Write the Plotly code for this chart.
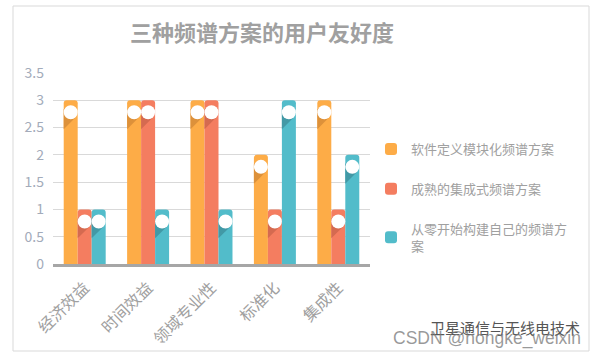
import plotly.graph_objects as go

categories = ["经济效益", "时间效益", "领域专业性", "标准化", "集成性"]
series_names = ["软件定义模块化频谱方案", "成熟的集成式频谱方案", "从零开始构建自己的频谱方<br>案"]
soft_defined = [3, 3, 3, 2, 3]
mature_integrated = [1, 3, 3, 1, 1]
from_scratch = [1, 1, 1, 3, 2]
y_ticks = [0, 0.5, 1, 1.5, 2, 2.5, 3, 3.5]

series_values = [soft_defined, mature_integrated, from_scratch]
colors = ["#FDAC47", "#F47D60", "#52BCCA"]
shadow_colors = ["#DD913A", "#D56A50", "#4299A6"]

W, H = 600, 359
L, R, T, B = 53, 370, 73, 264
bargap = 0.338
bw = (1 - bargap) / 3

def px_x(px):
    return (px - L) / (R - L)

def px_y(py):
    return (B - py) / (B - T)

fig = go.Figure()
for i, (name, vals) in enumerate(zip(series_names, series_values)):
    fig.add_trace(go.Bar(
        x=categories, y=vals, name=name,
        marker=dict(color=colors[i], cornerradius=3, line=dict(width=0)),
        legendgroup=str(i), hoverinfo="skip",
    ))

shapes = []
r = 7
cy = -12
k = 0.7071 * r
for i, vals in enumerate(series_values):
    for j, v in enumerate(vals):
        xa = j + (i - 1) * bw
        path = (f"M {-k} {cy + k} L {-r} {cy + 0.41 * r} L {-r} {cy - 2.41 * r} "
                f"L {k} {cy - k} Z")
        shapes.append(dict(type="path", xref="x", yref="y", xsizemode="pixel",
                           ysizemode="pixel", xanchor=xa, yanchor=v, path=path,
                           fillcolor=shadow_colors[i], line=dict(width=0), layer="above"))
        shapes.append(dict(type="circle", xref="x", yref="y", xsizemode="pixel",
                           ysizemode="pixel", xanchor=xa, yanchor=v,
                           x0=-r, x1=r, y0=cy - r, y1=cy + r,
                           fillcolor="white", line=dict(width=0), layer="above"))

# outer border
shapes.append(dict(type="rect", xref="paper", yref="paper",
                   x0=px_x(13), x1=px_x(589), y0=px_y(351), y1=px_y(6),
                   line=dict(color="#D9D9D9", width=1), fillcolor="rgba(0,0,0,0)", layer="below"))

font_family = "Noto Sans CJK SC"
fig.update_layout(
    width=W, height=H,
    margin=dict(l=L, r=W - R, t=T, b=H - B, pad=0, autoexpand=False),
    paper_bgcolor="white", plot_bgcolor="white",
    barmode="group", bargap=bargap, bargroupgap=0,
    font=dict(family=font_family, color="#A0A0A0", size=13),
    title=dict(text="<b>三种频谱方案的用户友好度</b>", xref="container", yref="container",
               x=262 / W, y=1 - 33 / H, xanchor="center", yanchor="middle",
               font=dict(size=22, color="#A0A0A0", family=font_family)),
    xaxis=dict(showline=True, linecolor="#A6A6A6", linewidth=3, ticks="",
               tickangle=-45, tickfont=dict(size=16, color="#A0A0A0"),
               ticklabelstandoff=5, showgrid=False, automargin=False),
    yaxis=dict(range=[0, 3.5], tickvals=y_ticks, ticktext=[f"{t:g}" for t in y_ticks],
               showgrid=True, gridcolor="#D9D9D9", gridwidth=1, zeroline=False,
               showline=False, ticks="", tickfont=dict(size=14, color="#A3ABBA"),
               ticklabelstandoff=8, automargin=False),
    legend=dict(x=px_x(371), y=px_y(134), xanchor="left", yanchor="top",
                traceorder="grouped", tracegroupgap=20,
                font=dict(size=13, color="#A0A0A0"), bgcolor="rgba(0,0,0,0)"),
    shapes=shapes,
    annotations=[
        dict(text="卫星通信与无线电技术", xref="paper", yref="paper", x=px_x(582), y=px_y(327),
             xanchor="right", yanchor="middle", showarrow=False,
             font=dict(size=15, color="#555555", family=font_family)),
        dict(text="CSDN @hongke_weixin", xref="paper", yref="paper", x=px_x(583), y=px_y(338),
             xanchor="right", yanchor="middle", showarrow=False,
             font=dict(size=17.5, color="rgba(120,120,120,0.75)", family="Liberation Sans")),
    ],
)

fig.write_html("out.html", config={"displayModeBar": False},
               post_script="document.body.style.margin='0';")
